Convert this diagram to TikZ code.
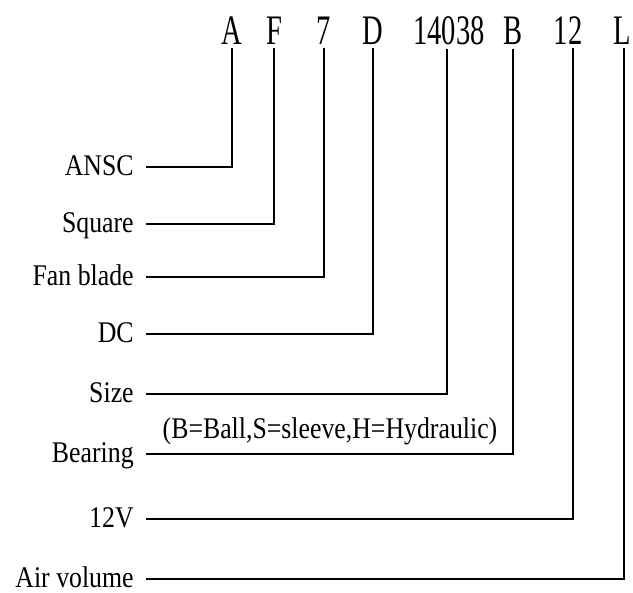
\documentclass[tikz,border=0pt]{standalone}
\usepackage{fontspec}
\setmainfont{Liberation Serif}
\usepackage{tikz}
\begin{document}
\begin{tikzpicture}[x=0.5pt,y=-0.5pt,
  code/.style={font=\fontsize{21}{21}\selectfont,xscale=0.68,inner sep=0pt,anchor=base},
  part/.style={font=\fontsize{15}{15}\selectfont,xscale=0.86,inner sep=0pt,anchor=base east},
  lead/.style={line width=1.4pt,line join=miter}]
\useasboundingbox (0,0) rectangle (633,593);
\node[code] (cA) at (232,45) {A};
\node[code] (cF) at (274,45) {F};
\node[code] (c7) at (324,45) {7};
\node[code] (cD) at (373,45) {D};
\node[code] (cSize) at (449,45) {14038};
\node[code] (cB) at (513,45) {B};
\node[code] (cV) at (568,45) {12};
\node[code] (cL) at (622,45) {L};
\node[part] (pANSC) at (134,176) {ANSC};
\node[part] (pSquare) at (134,233) {Square};
\node[part] (pBlade) at (134,286) {Fan blade};
\node[part] (pDC) at (134,343) {DC};
\node[part] (pSize) at (134,403) {Size};
\node[part] (pBearing) at (134,463) {Bearing};
\node[part] (pVolt) at (134,528) {12V};
\node[part] (pAir) at (134,588) {Air volume};
\node[part,anchor=base] (pNote) at (330,439) {(B=Ball,S=sleeve,H=Hydraulic)};
\draw[lead] ([shift={(6pt,4.5pt)}]pANSC.base east) -| ([yshift=-1.5pt]cA.south);
\draw[lead] ([shift={(6pt,4.5pt)}]pSquare.base east) -| ([yshift=-1.5pt]cF.south);
\draw[lead] ([shift={(6pt,4.5pt)}]pBlade.base east) -| ([yshift=-1.5pt]c7.south);
\draw[lead] ([shift={(6pt,4.5pt)}]pDC.base east) -| ([yshift=-1.5pt]cD.south);
\draw[lead] ([shift={(6pt,4.5pt)}]pSize.base east) -| ([shift={(-1pt,-1.5pt)}]cSize.south);
\draw[lead] ([shift={(6pt,4.5pt)}]pBearing.base east) -| ([yshift=-1.5pt]cB.south);
\draw[lead] ([shift={(6pt,4.5pt)}]pVolt.base east) -| ([shift={(2.5pt,-1.5pt)}]cV.south);
\draw[lead] ([shift={(6pt,4.5pt)}]pAir.base east) -| ([shift={(1pt,-1.5pt)}]cL.south);
\end{tikzpicture}
\end{document}
